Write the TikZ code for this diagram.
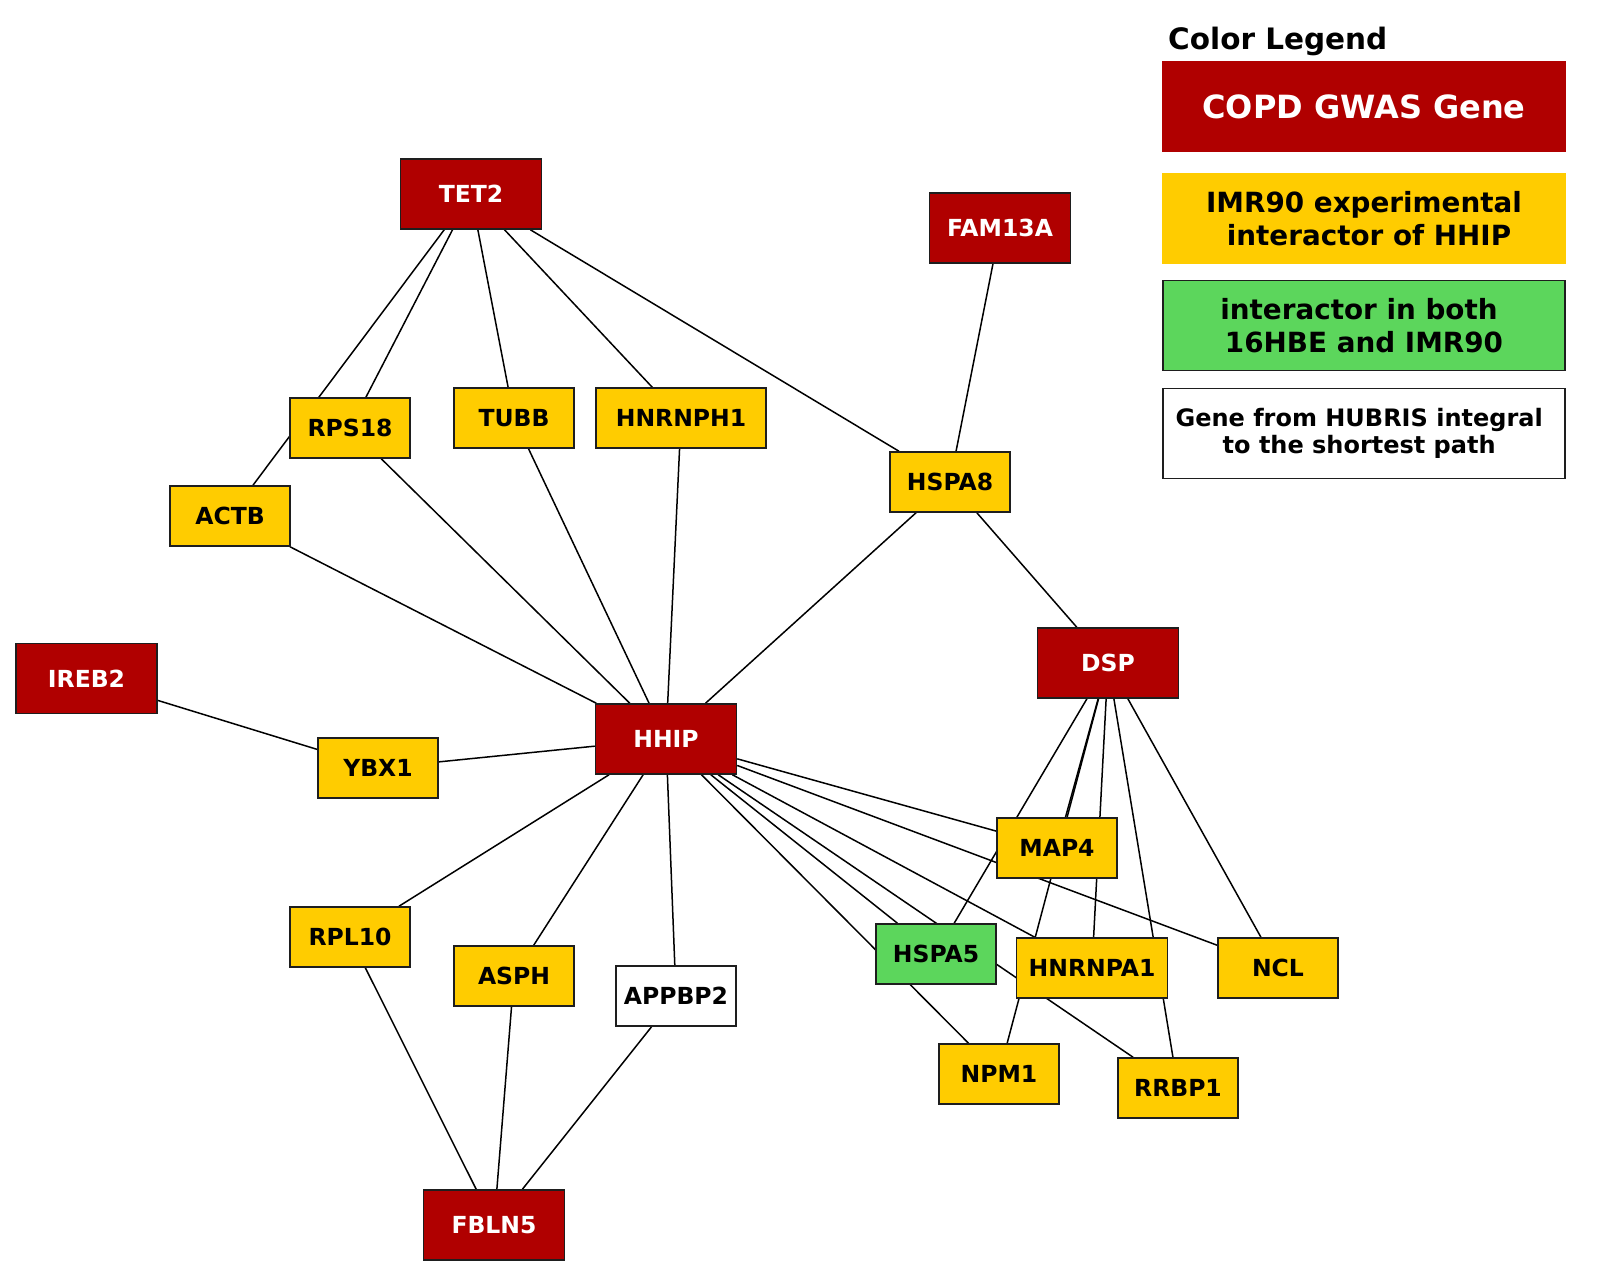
\documentclass[tikz,border=0pt]{standalone}
\usepackage{fontspec}
\setmainfont{DejaVu Sans}
\usetikzlibrary{backgrounds}
\definecolor{copdred}{RGB}{176,0,0}
\definecolor{imryellow}{RGB}{255,204,0}
\definecolor{bothgreen}{RGB}{92,214,92}
\definecolor{bordergray}{RGB}{30,30,30}
\begin{document}
\begin{tikzpicture}[x=1pt,y=-1pt,
  gene/.style={draw=bordergray, line width=1.5pt, fill=imryellow,
    font=\fontsize{23.5}{28}\selectfont\bfseries, inner sep=0pt,
    minimum width=120pt, minimum height=60pt},
  gwas/.style={gene, fill=copdred, text=white, minimum width=141pt, minimum height=70pt},
  both/.style={gene, fill=bothgreen},
  hubris/.style={gene, fill=white},
  link/.style={line width=1.5pt, black},
  legbox/.style={line width=1.5pt, inner sep=0pt, align=center,
    minimum width=402pt, minimum height=90pt}]
\useasboundingbox (0,0) rectangle (1614,1276);
% nodes
\node[gwas] (TET2) at (471,194) {TET2};
\node[gwas] (FAM13A) at (1000,228) {FAM13A};
\node[gene] (RPS18) at (350,428) {RPS18};
\node[gene] (TUBB) at (514,418) {TUBB};
\node[gene, minimum width=170pt] (HNRNPH1) at (681,418) {HNRNPH1};
\node[gene] (ACTB) at (230,516) {ACTB};
\node[gene] (HSPA8) at (950,482) {HSPA8};
\node[gwas] (IREB2) at (86.5,678.5) {IREB2};
\node[gwas] (DSP) at (1108,663) {DSP};
\node[gwas] (HHIP) at (666,739) {HHIP};
\node[gene] (YBX1) at (378,768) {YBX1};
\node[gene] (MAP4) at (1057,848) {MAP4};
\node[gene] (RPL10) at (350,937) {RPL10};
\node[gene] (ASPH) at (514,976) {ASPH};
\node[hubris] (APPBP2) at (676,996) {APPBP2};
\node[both] (HSPA5) at (936,954) {HSPA5};
\node[gene, minimum width=151pt] (HNRNPA1) at (1092,968) {HNRNPA1};
\node[gene] (NCL) at (1278,968) {NCL};
\node[gene] (NPM1) at (999,1074) {NPM1};
\node[gene] (RRBP1) at (1178,1088) {RRBP1};
\node[gwas] (FBLN5) at (494,1225) {FBLN5};
% legend
\node[anchor=base west, font=\fontsize{29.5}{34}\selectfont\bfseries, inner sep=0pt] (legtitle) at (1168,50) {Color Legend};
\node[legbox, fill=copdred, draw=copdred, text=white, font=\fontsize{32}{36}\selectfont\bfseries] (legred) at (1364,106.5) {COPD GWAS Gene};
\node[legbox, fill=imryellow, draw=imryellow, font=\fontsize{27.8}{33}\selectfont\bfseries] (legyellow) at (1364,218.5) {IMR90 experimental\\\rule{0.36em}{0pt}interactor of HHIP};
\node[legbox, fill=bothgreen, draw=bordergray, font=\fontsize{27.8}{33}\selectfont\bfseries] (leggreen) at (1364,325.5) {interactor in both\rule{0.36em}{0pt}\\16HBE and IMR90};
\node[legbox, fill=white, draw=bordergray, font=\fontsize{24}{27}\selectfont\bfseries] (legwhite) at (1364,433.5) {Gene from HUBRIS integral\rule{0.4em}{0pt}\\to the shortest path\rule{0.4em}{0pt}};
% edges
\begin{scope}[on background layer]
\fill[white] (0,0) rectangle (1614,1276);
\draw[link] (TET2) -- (ACTB);
\draw[link] (TET2) -- (RPS18);
\draw[link] (TET2) -- (TUBB);
\draw[link] (TET2) -- (HNRNPH1);
\draw[link] (TET2) -- (HSPA8);
\draw[link] (FAM13A) -- (HSPA8);
\draw[link] (ACTB) -- (HHIP);
\draw[link] (RPS18) -- (HHIP);
\draw[link] (TUBB) -- (HHIP);
\draw[link] (HNRNPH1) -- (HHIP);
\draw[link] (HSPA8) -- (HHIP);
\draw[link] (HSPA8) -- (DSP);
\draw[link] (IREB2) -- (YBX1);
\draw[link] (YBX1) -- (HHIP);
\draw[link] (HHIP) -- (RPL10);
\draw[link] (HHIP) -- (ASPH);
\draw[link] (HHIP) -- (APPBP2);
\draw[link] (RPL10) -- (FBLN5);
\draw[link] (ASPH) -- (FBLN5);
\draw[link] (APPBP2) -- (FBLN5);
\draw[link] (HHIP) -- (MAP4);
\draw[link] (HHIP) -- (NCL);
\draw[link] (HHIP) -- (HNRNPA1);
\draw[link] (HHIP) -- (RRBP1);
\draw[link] (HHIP) -- (HSPA5);
\draw[link] (HHIP) -- (NPM1);
\draw[link] (DSP) -- (HSPA5);
\draw[link] (DSP) -- (MAP4);
\draw[link] (DSP) -- (NPM1);
\draw[link] (DSP) -- (HNRNPA1);
\draw[link] (DSP) -- (RRBP1);
\draw[link] (DSP) -- (NCL);
\end{scope}
\end{tikzpicture}
\end{document}
